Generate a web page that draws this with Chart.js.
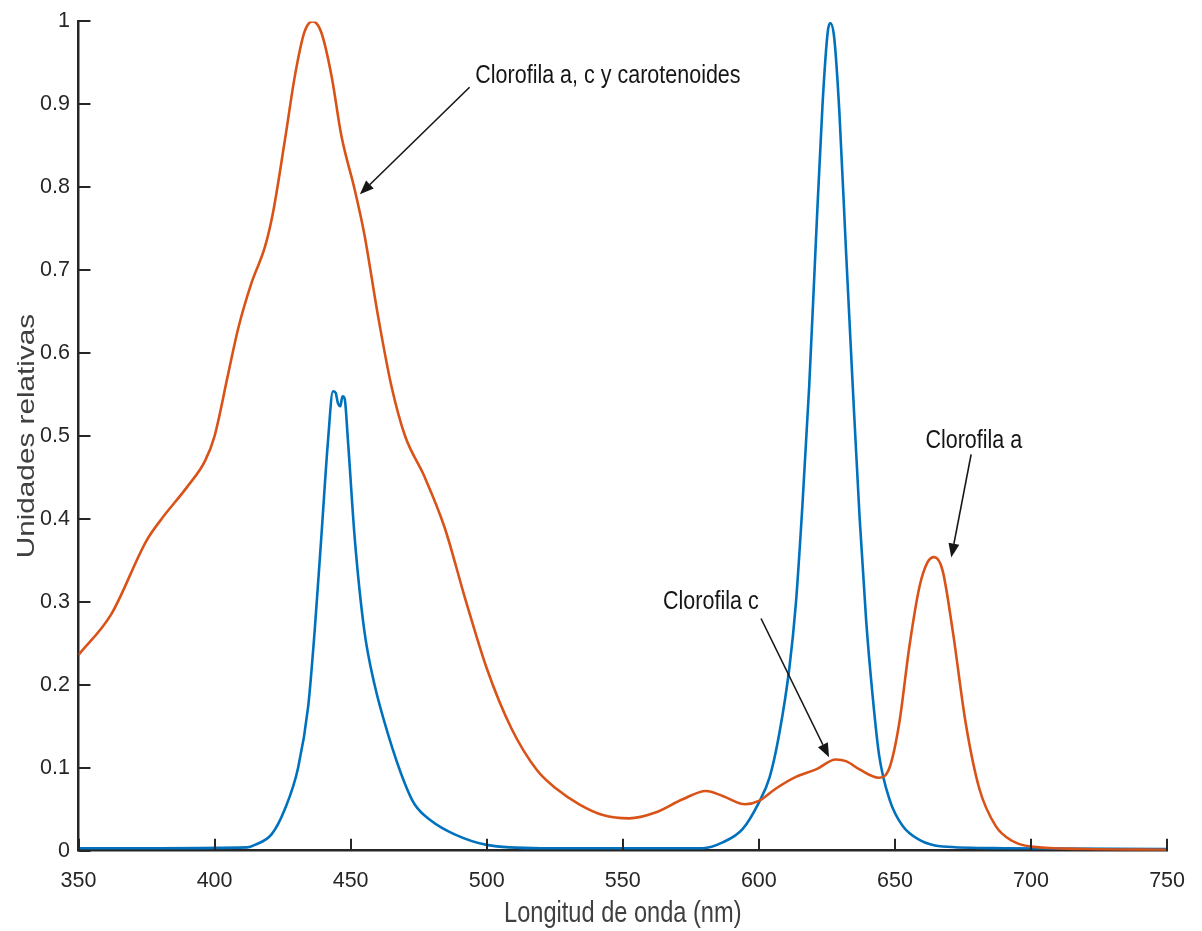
<!DOCTYPE html>
<html>
<head>
<meta charset="utf-8">
<title>Espectros</title>
<script src="https://cdn.jsdelivr.net/npm/chart.js@4.4.1/dist/chart.umd.min.js"></script>
<style>
  html, body { margin: 0; padding: 0; background: #fff; }
  #wrap { width: 1202px; height: 931px; }
</style>
</head>
<body>
<div id="wrap"><canvas id="espectro"></canvas></div>
<script>
// absorción de pigmentos (naranja)
const nmAbs = [350, 362, 375, 380.5, 390, 396.5, 400, 405, 408.7, 413.6, 418.5, 421.5, 425.8, 429.5, 433, 436,
  439.2, 443, 446.6, 451.5, 455, 460, 465, 470, 477, 484.5, 492, 500, 509, 518.5, 525.5, 534, 542.7, 552.4,
  562, 572, 580.6, 586.7, 595, 600, 606.3, 613.6, 621, 628.3, 632, 637, 644, 648, 651.6, 655.3, 659, 662,
  664.5, 667.5, 671.2, 676, 681, 687, 693, 700, 720, 750];
const absorcion = [0.236, 0.285, 0.374, 0.400, 0.439, 0.47, 0.50, 0.575, 0.63, 0.685, 0.728, 0.77, 0.856, 0.934, 0.987, 1.0,
  0.987, 0.934, 0.862, 0.797, 0.744, 0.646, 0.56, 0.50, 0.452, 0.39, 0.305, 0.22, 0.148, 0.097, 0.075, 0.056, 0.043, 0.039,
  0.046, 0.062, 0.072, 0.066, 0.056, 0.06, 0.075, 0.089, 0.098, 0.11, 0.108, 0.098, 0.088, 0.10, 0.154, 0.246, 0.318, 0.348,
  0.354, 0.338, 0.266, 0.154, 0.075, 0.03, 0.012, 0.005, 0.002, 0.001];

// emisión de la lámpara (azul)
const nmLed = [350, 380, 412, 414.8, 421, 425.8, 430.7, 434.4, 436.8, 439.2, 441.7, 443.5, 444.5, 445.3, 446.2, 447,
  447.8, 449, 451.5, 455, 458.8, 463.7, 469.8, 473.5, 479.6, 488, 500, 520, 560, 579.4, 586.7, 594, 600, 604,
  607.5, 611.2, 613.6, 616, 618.5, 621, 623.4, 625.3, 626.2, 627.7, 629.6, 632, 634.5, 637, 639.4, 641.8,
  644.2, 648, 652.8, 659, 667.5, 690, 750];
const emision = [0.003, 0.003, 0.004, 0.007, 0.02, 0.05, 0.10, 0.174, 0.266, 0.377, 0.495, 0.554, 0.552, 0.54, 0.536, 0.548,
  0.545, 0.495, 0.377, 0.266, 0.20, 0.141, 0.082, 0.056, 0.036, 0.02, 0.007, 0.003, 0.003, 0.003, 0.01, 0.026, 0.058, 0.089,
  0.141, 0.22, 0.298, 0.416, 0.56, 0.738, 0.90, 0.987, 0.998, 0.98, 0.89, 0.725, 0.56, 0.403, 0.279, 0.187,
  0.115, 0.062, 0.03, 0.013, 0.005, 0.003, 0.002];

// etiquetas con flecha, en coordenadas de datos
const notas = [
  { texto: 'Clorofila a, c y carotenoides', x: 495.8, y: 0.935, desde: [493.7, 0.9206], hasta: [453.4, 0.7915] },
  { texto: 'Clorofila c', x: 564.8, y: 0.300, desde: [600.8, 0.280], hasta: [625.8, 0.1126] },
  { texto: 'Clorofila a', x: 661.2, y: 0.494, desde: [678.0, 0.478], hasta: [670.7, 0.3535] }
];

const ejeX = 'Longitud de onda (nm)';
const ejeY = 'Unidades relativas';

const FUENTE = '"Liberation Sans", Arial, Helvetica, sans-serif';
const ESTIRA = 1.22; // el texto del original sale algo alargado en vertical

function puntos(xs, ys) {
  return xs.map((x, i) => ({ x: x, y: ys[i] }));
}

function flecha(ctx, x0, y0, x1, y1) {
  const ang = Math.atan2(y1 - y0, x1 - x0);
  const largo = 14, ancho = 5.5;
  const bx = x1 - largo * Math.cos(ang), by = y1 - largo * Math.sin(ang);
  ctx.beginPath();
  ctx.moveTo(x0, y0);
  ctx.lineTo(bx, by);
  ctx.stroke();
  ctx.beginPath();
  ctx.moveTo(x1, y1);
  ctx.lineTo(bx + ancho * Math.sin(ang), by - ancho * Math.cos(ang));
  ctx.lineTo(bx - ancho * Math.sin(ang), by + ancho * Math.cos(ang));
  ctx.closePath();
  ctx.fill();
}

// marcas hacia dentro, títulos de ejes y anotaciones
const extras = {
  id: 'extras',
  afterDraw(chart) {
    const ctx = chart.ctx;
    const xs = chart.scales.x, ys = chart.scales.y;
    const area = chart.chartArea;
    ctx.save();
    ctx.strokeStyle = '#262626';
    ctx.lineWidth = 2;
    xs.ticks.forEach(t => {
      const px = Math.round(xs.getPixelForValue(t.value));
      ctx.beginPath();
      ctx.moveTo(px, area.bottom);
      ctx.lineTo(px, area.bottom - 12);
      ctx.stroke();
    });
    ys.ticks.forEach(t => {
      const py = Math.round(ys.getPixelForValue(t.value));
      ctx.beginPath();
      ctx.moveTo(area.left, py);
      ctx.lineTo(area.left + 12, py);
      ctx.stroke();
    });

    // títulos
    ctx.fillStyle = '#404040';
    ctx.font = '23.6px ' + FUENTE;
    ctx.textAlign = 'center';
    ctx.textBaseline = 'middle';
    ctx.save();
    ctx.translate((area.left + area.right) / 2, 914);
    ctx.scale(1, ESTIRA);
    ctx.fillText(ejeX, 0, 0);
    ctx.restore();
    ctx.save();
    ctx.translate(27, (area.top + area.bottom) / 2);
    ctx.rotate(-Math.PI / 2);
    ctx.scale(ESTIRA + 0.04, 1);
    ctx.fillText(ejeY, 0, 0);
    ctx.restore();

    // anotaciones
    ctx.fillStyle = '#161616';
    ctx.strokeStyle = '#161616';
    ctx.lineWidth = 1.6;
    ctx.font = '21.5px ' + FUENTE;
    ctx.textAlign = 'left';
    notas.forEach(n => {
      ctx.save();
      ctx.translate(xs.getPixelForValue(n.x), ys.getPixelForValue(n.y));
      ctx.scale(1, ESTIRA);
      ctx.fillText(n.texto, 0, 0);
      ctx.restore();
      flecha(ctx,
        xs.getPixelForValue(n.desde[0]), ys.getPixelForValue(n.desde[1]),
        xs.getPixelForValue(n.hasta[0]), ys.getPixelForValue(n.hasta[1]));
    });
    ctx.restore();
  }
};

new Chart(document.getElementById('espectro'), {
  type: 'line',
  data: {
    datasets: [
      {
        label: 'Absorción',
        data: puntos(nmAbs, absorcion),
        borderColor: '#D95319',
        borderWidth: 2.6,
        pointRadius: 0,
        cubicInterpolationMode: 'monotone'
      },
      {
        label: 'Emisión',
        data: puntos(nmLed, emision),
        borderColor: '#0072BD',
        borderWidth: 2.6,
        pointRadius: 0,
        cubicInterpolationMode: 'monotone'
      }
    ]
  },
  options: {
    responsive: true,
    maintainAspectRatio: false,
    animation: false,
    layout: { padding: { top: 15.7, right: 31.3, left: 0, bottom: 0 } },
    plugins: {
      legend: { display: false },
      tooltip: { enabled: false }
    },
    scales: {
      x: {
        type: 'linear',
        min: 350,
        max: 750,
        afterFit: s => { s.height = 80.3; },
        grid: { display: false, drawTicks: false, tickLength: 0 },
        border: { display: true, color: '#262626', width: 2.5 },
        ticks: { stepSize: 50, padding: 17, color: '#262626', font: { family: FUENTE, size: 21.5 } }
      },
      y: {
        min: 0,
        max: 1,
        afterFit: s => { s.width = 78.5; },
        grid: { display: false, drawTicks: false, tickLength: 0 },
        border: { display: true, color: '#262626', width: 2.5 },
        ticks: {
          stepSize: 0.1,
          padding: 8.5,
          color: '#262626',
          font: { family: FUENTE, size: 21.5 },
          callback: v => String(+v.toFixed(1))
        }
      }
    }
  },
  plugins: [extras]
});
</script>
</body>
</html>
